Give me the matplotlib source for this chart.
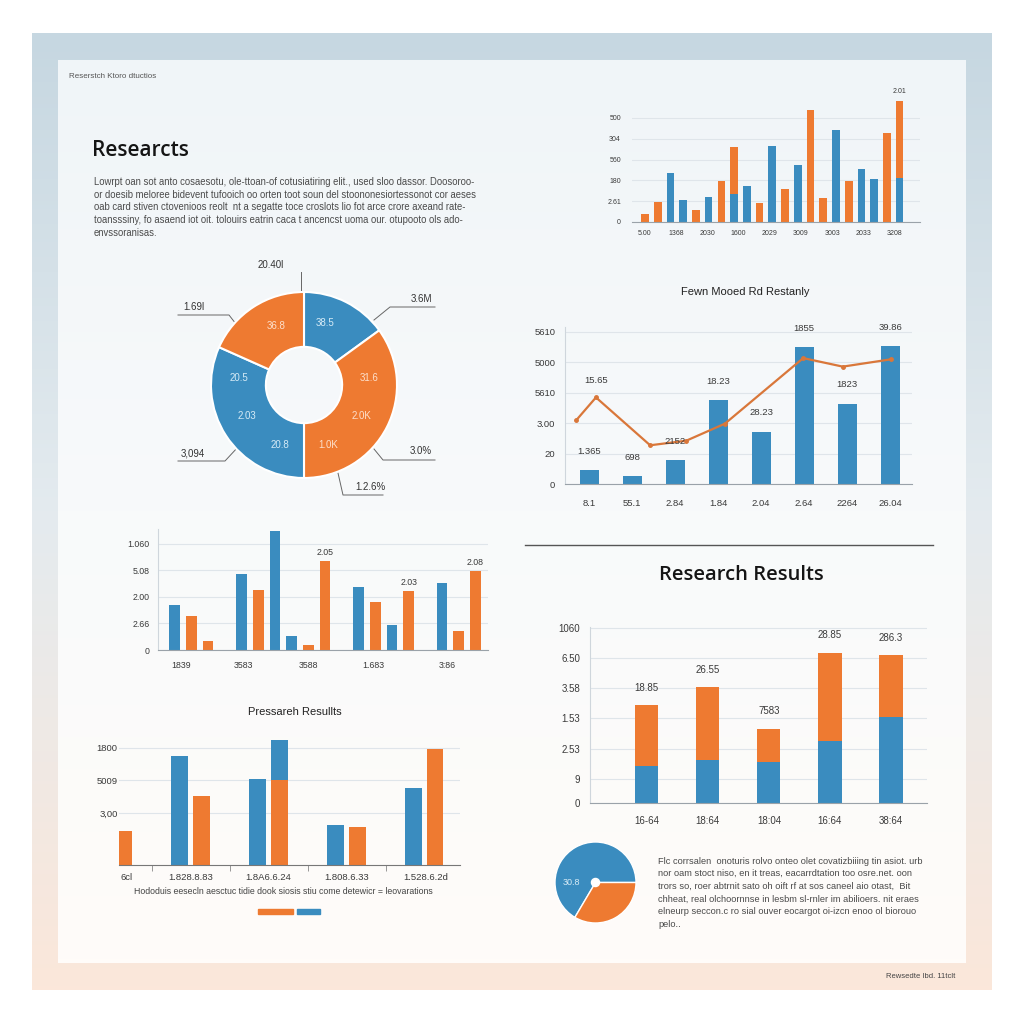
import numpy as np
import matplotlib.pyplot as plt
from matplotlib.colors import LinearSegmentedColormap

plt.rcParams['font.family'] = ['Liberation Sans', 'DejaVu Sans']

BLUE = '#3a8cbf'
ORANGE = '#ee7a31'
LINE = '#d9773a'
GRID = '#dfe5ea'
TXT = '#3a3a3a'
TITLE_FONT = ['Open Sans', 'DejaVu Sans']

# --- top-right bar strip ---
tr_xlabels = ['5.00', '1368', '2030', '1600', '2029', '3009', '3003', '2033', '3208']
tr_ylabels = ['0', '2.61', '180', '560', '304', '500']
tr_blue = [0, 0, 2.34, 1.07, 0, 1.22, 0, 1.36, 1.71, 0, 3.67, 0, 2.74, 0, 0, 4.41, 0, 2.55, 2.07, 0, 2.13]
tr_orange = [0.40, 0.96, 0, 0, 0.56, 0, 1.99, 2.26, 0, 0.90, 0, 1.60, 0, 5.40, 1.14, 0, 1.97, 0, 0, 4.29, 3.67]
tr_note = '2.01'

# --- donut ---
donut_vals = [54, 126, 114, 66]
donut_colors = [BLUE, ORANGE, BLUE, ORANGE]
donut_inner = ['38.5', '36.8', '31.6', '2.0K', '1.0K', '20.8', '2.03', '20.5']
donut_inner_on = [BLUE, ORANGE, ORANGE, ORANGE, ORANGE, BLUE, BLUE, BLUE]
donut_inner_ang = [71, 115, 6, -28, -68, 248, 208, 174]
donut_outer = ['20.40l', '1.69l', '3.6M', '3,094', '3.0%', '1.2.6%']

# --- combo chart ---
mr_title = 'Fewn Mooed Rd Restanly'
mr_cats = ['8.1', '55.1', '2.84', '1.84', '2.04', '2.64', '2264', '26.04']
mr_bars = [0.45, 0.26, 0.78, 2.75, 1.72, 4.49, 2.63, 4.53]
mr_bar_labels = ['1.365', '698', '2152', '18.23', '28.23', '1855', '1823', '39.86']
mr_line_x = [-0.30, 0.16, 1.42, 2.26, 3.16, 4.98, 5.90, 7.02]
mr_line = [2.09, 2.84, 1.27, 1.42, 1.98, 4.13, 3.85, 4.09]
mr_line_note = '15.65'
mr_ylabels = ['0', '20', '3.00', '5610', '5000', '5610']

# --- middle-left grouped bars ---
ml_blue_slot = [0, 4, 6, 7, 11, 13, 16]
ml_blue = [1.70, 2.86, 4.47, 0.52, 2.38, 0.94, 2.52]
ml_orange_slot = [1, 2, 5, 8, 9, 12, 14, 17, 18]
ml_orange = [1.28, 0.34, 2.25, 0.19, 3.35, 1.79, 2.21, 0.70, 2.96]
ml_notes = {9: '2.05', 14: '2.03', 18: '2.08'}
ml_xlabels = ['1839', '3583', '3588', '1.683', '3:86']
ml_xpos = [0.4, 4.1, 8.0, 11.9, 16.3]
ml_ylabels = ['0', '2.66', '2.00', '5.08', '1.060']

# --- bottom-left bars ---
bl_title = 'Pressareh Resullts'
bl_blue = [0, 3.35, 2.63, 1.24, 2.37]
bl_orange = [1.03, 2.13, 2.60, 1.16, 3.58]
bl_blue_top = [0, 0, 1.25, 0, 0]
bl_xlabels = ['6cl', '1.828.8.83', '1.8A6.6.24', '1.808.6.33', '1.528.6.2d']
bl_yticks = [1.6, 2.6, 3.6]
bl_ylabels = ['3,00', '5009', '1800']
bl_caption = 'Hododuis eesecln aesctuc tidie dook siosis stiu come detewicr = leovarations'

# --- bottom-right stacked ---
br_title = 'Research Results'
br_cats = ['16-64', '18:64', '18:04', '16:64', '38:64']
br_blue = [1.24, 1.43, 1.36, 2.04, 2.84]
br_orange = [1.99, 2.41, 1.10, 2.94, 2.05]
br_labels = ['18.85', '26.55', '7583', '28.85', '286.3']
br_yticks = [0, 0.8, 1.8, 2.8, 3.8, 4.8, 5.8]
br_ylabels = ['0', '9', '2.53', '1.53', '3.58', '6.50', '1060']

# --- small pie ---
sp_vals = [66.5, 33.5]
sp_label = '30.8'

# --- texts ---
top_note = 'Reserstch Ktoro dtuctios'
main_title = 'Researcts'
intro = [
    'Lowrpt oan sot anto cosaesotu, ole-ttoan-of cotusiatiring elit., used sloo dassor. Doosoroo-',
    'or doesib meloree bidevent tufooich oo orten toot soun del stoononesiortessonot cor aeses',
    'oab card stiven ctovenioos reolt  nt a segatte toce croslots lio fot arce crore axeand rate-',
    'toansssiny, fo asaend iot oit. tolouirs eatrin caca t ancencst uoma our. otupooto ols ado-',
    'envssoranisas.',
]
outro = [
    'Flc corrsalen  onoturis rolvo onteo olet covatizbiiing tin asiot. urb',
    'nor oam stoct niso, en it treas, eacarrdtation too osre.net. oon',
    'trors so, roer abtrnit sato oh oift rf at sos caneel aio otast,  Bit',
    'chheat, real olchoornnse in lesbm sl-rnler im abilioers. nit eraes',
    'elneurp seccon.c ro sial ouver eocargot oi-izcn enoo ol biorouo',
    'pelo..',
]
corner_note = 'Rewsedte Ibd. 11tclt'


def box(x0, y0, x1, y1):
    return [x0 / 1024, 1 - y1 / 1024, (x1 - x0) / 1024, (y1 - y0) / 1024]


def frame(ax, yt, ylab, size, left=False):
    ax.set_facecolor('none')
    for s in ('top', 'right'):
        ax.spines[s].set_visible(False)
    ax.spines['left'].set_visible(left)
    ax.spines['left'].set_color('#cfd6dc')
    ax.spines['bottom'].set_color('#9aa2a9')
    ax.set_yticks(yt, ylab)
    ax.tick_params(length=0, labelsize=size, labelcolor=TXT)
    ax.grid(axis='y', color=GRID, lw=0.8)
    ax.set_axisbelow(True)


fig = plt.figure(figsize=(10.24, 10.24), dpi=100)

# background frame + panel
bg = fig.add_axes([0, 0, 1, 1])
grad = np.linspace(0, 1, 256).reshape(-1, 1)
frame_cm = LinearSegmentedColormap.from_list('f', ['#c6d7e1', '#e4ebef', '#fbe7da'])
panel_cm = LinearSegmentedColormap.from_list('p', ['#f0f5f8', '#f8fafb', '#fffcf9'])
bg.imshow(grad, cmap=frame_cm, extent=(32, 992, 990, 33), aspect='auto')
bg.imshow(grad, cmap=panel_cm, extent=(58, 966, 963, 60), aspect='auto')
bg.set_xlim(0, 1024)
bg.set_ylim(1024, 0)
bg.axis('off')

bg.text(69, 77, top_note, fontsize=5.8, color='#555', va='center')
bg.text(92, 150, main_title, fontsize=15, family=TITLE_FONT, weight='semibold', color='#151515', va='center')
for i, line in enumerate(intro):
    bg.text(94, 182 + i * 12.7, line, fontsize=6.85, color='#4a4a4a', va='center')
bg.text(745, 292, mr_title, fontsize=8, color='#222', ha='center', va='center')
bg.plot([525, 933], [545, 545], color='#555', lw=1)
bg.text(741, 575, br_title, fontsize=14.5, family=TITLE_FONT, weight='semibold', color='#151515',
        ha='center', va='center')
bg.text(295, 712, bl_title, fontsize=8, color='#222', ha='center', va='center')
bg.text(283, 891, bl_caption, fontsize=6.3, color='#444', ha='center', va='center')
bg.add_patch(plt.Rectangle((258, 909), 35, 5, color=ORANGE))
bg.add_patch(plt.Rectangle((297, 909), 23, 5, color=BLUE))
for i, line in enumerate(outro):
    bg.text(658, 861 + i * 12.7, line, fontsize=6.7, color='#4a4a4a', va='center')
bg.text(955, 977, corner_note, fontsize=5.5, color='#444', ha='right', va='center')

# donut leader lines and outer labels
leaders = [
    ([301, 301], [272, 292]),
    ([178, 229, 236], [315, 315, 324]),
    ([374, 390, 435], [320, 307, 307]),
    ([178, 225, 238], [461, 461, 447]),
    ([374, 383, 435], [449, 460, 460]),
    ([338, 343, 383], [473, 495, 495]),
]
outer_xy = [(271, 265), (194, 307), (421, 299), (193, 453), (421, 451), (370, 487)]
for (lx, ly), txt, (tx, ty) in zip(leaders, donut_outer, outer_xy):
    bg.plot(lx, ly, color='#666', lw=0.7)
    bg.text(tx, ty, txt, fontsize=7, color='#333', ha='center', va='center')

# top-right bar strip
ax = fig.add_axes(box(632, 95, 920, 222))
x = np.arange(len(tr_blue))
ax.bar(x, tr_blue, width=0.6, color=BLUE)
ax.bar(x, tr_orange, width=0.6, bottom=tr_blue, color=ORANGE)
ax.text(x[-1], tr_blue[-1] + tr_orange[-1] + 0.45, tr_note, fontsize=5, color=TXT, ha='center', va='center')
ax.set_xlim(-1.02, 21.6)
ax.set_ylim(0, 6.1)
frame(ax, range(len(tr_ylabels)), tr_ylabels, 5)
ax.set_xticks(np.linspace(0, 19.6, len(tr_xlabels)), tr_xlabels)
ax.tick_params(axis='y', pad=8)
ax.tick_params(axis='x', pad=6)

# donut
ax = fig.add_axes(box(211, 292, 397, 478))
ax.pie(donut_vals, colors=donut_colors, startangle=90, counterclock=False, radius=1,
       wedgeprops=dict(width=0.59, edgecolor='white', linewidth=1.5))
for txt, on, ang in zip(donut_inner, donut_inner_on, donut_inner_ang):
    a = np.deg2rad(ang)
    ax.text(0.70 * np.cos(a), 0.70 * np.sin(a), txt, fontsize=7, ha='center', va='center',
            color='#d6ebf6' if on == BLUE else '#fde0cc')
ax.set_xlim(-1, 1)
ax.set_ylim(-1, 1)

# combo chart
ax = fig.add_axes(box(565, 327, 912, 484))
x = np.arange(len(mr_bars))
ax.bar(x, mr_bars, width=0.44, color=BLUE)
ax.plot(mr_line_x, mr_line, color=LINE, lw=1.6, marker='o', ms=2.5)
for xi, v, t in zip(x, mr_bars, mr_bar_labels):
    ax.text(xi, v + 0.62, t, fontsize=6.8, color=TXT, ha='center', va='center')
ax.text(mr_line_x[1], mr_line[1] + 0.57, mr_line_note, fontsize=6.8, color=TXT, ha='center', va='center')
ax.set_xlim(-0.56, 7.51)
ax.set_ylim(0, 5.15)
frame(ax, range(len(mr_ylabels)), mr_ylabels, 6.8, left=True)
ax.set_xticks(x, mr_cats)
ax.tick_params(axis='y', pad=7)
ax.tick_params(axis='x', pad=11)

# middle-left grouped bars
ax = fig.add_axes(box(158, 529, 488, 650))
ax.bar(ml_blue_slot, ml_blue, width=0.64, color=BLUE)
ax.bar(ml_orange_slot, ml_orange, width=0.64, color=ORANGE)
for s, t in ml_notes.items():
    v = ml_orange[ml_orange_slot.index(s)]
    ax.text(s, v + 0.32, t, fontsize=6.3, color=TXT, ha='center', va='center')
ax.set_xlim(-1.0, 18.75)
ax.set_ylim(0, 4.55)
frame(ax, range(len(ml_ylabels)), ml_ylabels, 6.3, left=True)
ax.set_xticks(ml_xpos, ml_xlabels)
ax.tick_params(axis='y', pad=6)
ax.tick_params(axis='x', pad=8)

# bottom-left bars
ax = fig.add_axes(box(119, 730, 460, 865))
g = np.arange(len(bl_blue))
ax.bar(g, bl_blue, width=0.215, color=BLUE)
ax.bar(g + 0.28, bl_orange, width=0.215, color=ORANGE)
ax.bar(g + 0.28, bl_blue_top, width=0.215, bottom=bl_orange, color=BLUE)
ax.set_xlim(0.22, 4.6)
ax.set_ylim(0, 4.15)
frame(ax, bl_yticks, bl_ylabels, 6.8)
ax.spines['bottom'].set_color('#777')
ax.set_xticks([0.32, 1.14, 2.14, 3.14, 4.16], bl_xlabels)
ax.set_xticks(g[:-1] + 0.65, minor=True)
ax.tick_params(axis='x', which='minor', length=4, color='#888')
ax.tick_params(axis='y', pad=1)
ax.tick_params(axis='x', which='major', pad=6)

# bottom-right stacked
ax = fig.add_axes(box(590, 627, 927, 803))
x = np.arange(len(br_blue))
ax.bar(x, br_blue, width=0.38, color=BLUE)
ax.bar(x, br_orange, width=0.38, bottom=br_blue, color=ORANGE)
for xi, b, o, t in zip(x, br_blue, br_orange, br_labels):
    ax.text(xi, b + o + 0.58, t, fontsize=7, color=TXT, ha='center', va='center')
ax.set_xlim(-0.93, 4.59)
ax.set_ylim(0, 5.83)
frame(ax, br_yticks, br_ylabels, 7, left=True)
ax.set_xticks(x, br_cats)
ax.tick_params(axis='y', pad=7)
ax.tick_params(axis='x', pad=9)

# small pie
ax = fig.add_axes(box(555, 842, 636, 923))
ax.pie(sp_vals, colors=[BLUE, ORANGE], startangle=0, radius=1,
       wedgeprops=dict(edgecolor='white', linewidth=1))
ax.add_patch(plt.Circle((0, 0), 0.1, color='white'))
ax.text(-0.6, 0, sp_label, fontsize=6.5, color='#d6ebf6', ha='center', va='center')
ax.set_xlim(-1, 1)
ax.set_ylim(-1, 1)

fig.savefig('out.png', dpi=100)
